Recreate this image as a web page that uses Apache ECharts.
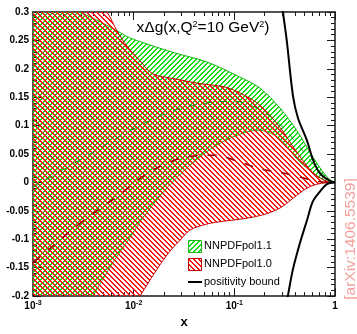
<!DOCTYPE html>
<html>
<head>
<meta charset="utf-8">
<script src="https://cdn.jsdelivr.net/npm/echarts@6/dist/echarts.min.js"></script>
<style>
  html, body { margin: 0; padding: 0; background: #fff; }
  #chart { width: 357px; height: 334px; }
</style>
</head>
<body>
<div id="chart"></div>
<script>
// x*Delta g(x) at Q^2 = 10 GeV^2 — NNPDFpol1.1 and NNPDFpol1.0 one-sigma bands
// Each curve is a list of [x, value] pairs.

const pol11Upper = [
  [0.001, 0.341], [0.00185, 0.317], [0.00293, 0.300], [0.00462, 0.283], [0.00682, 0.267],
  [0.00857, 0.257], [0.01155, 0.248], [0.0245, 0.229], [0.0535, 0.212], [0.106, 0.188],
  [0.18, 0.166], [0.284, 0.131], [0.419, 0.091], [0.564, 0.053], [0.741, 0.021],
  [0.889, 0.005], [1, 0]
];
const pol11Lower = [
  [0.001, -0.376], [0.00293, -0.238], [0.00394, -0.200], [0.00622, -0.141], [0.00918, -0.097],
  [0.01236, -0.062], [0.01823, -0.024], [0.0288, 0.014], [0.0455, 0.045], [0.072, 0.069],
  [0.1274, 0.088], [0.1923, 0.091], [0.284, 0.076], [0.448, 0.036], [0.759, 0.005], [1, 0]
];
const pol11Central = [
  [0.001, -0.009], [0.00173, 0.016], [0.00368, 0.050], [0.00918, 0.091], [0.0245, 0.126],
  [0.0535, 0.140], [0.0968, 0.143], [0.1675, 0.131], [0.284, 0.102], [0.448, 0.062],
  [0.708, 0.019], [1, 0]
];

const pol10Upper = [
  [0.001, 0.55], [0.00185, 0.42], [0.00368, 0.34], [0.00543, 0.300], [0.00682, 0.267],
  [0.00857, 0.240], [0.01155, 0.214], [0.01556, 0.191], [0.0245, 0.183], [0.0455, 0.174],
  [0.0845, 0.167], [0.143, 0.148], [0.192, 0.131], [0.284, 0.097], [0.419, 0.053],
  [0.604, 0.017], [0.832, 0.002], [1, 0]
];
const pol10Lower = [
  [0.001, -0.6], [0.00462, -0.326], [0.00731, -0.257], [0.01155, -0.200], [0.01702, -0.153],
  [0.0229, -0.121], [0.0288, -0.102], [0.0362, -0.084], [0.0511, -0.074], [0.072, -0.069],
  [0.1217, -0.064], [0.1923, -0.057], [0.2838, -0.045], [0.382, -0.028], [0.526, -0.010],
  [0.708, -0.002], [1, 0]
];
const pol10Central = [
  [0.001, -0.141], [0.001174, -0.131], [0.00293, -0.072], [0.00731, -0.021], [0.01155, 0.007],
  [0.01954, 0.031], [0.0338, 0.045], [0.0612, 0.048], [0.1138, 0.036], [0.1795, 0.024],
  [0.3565, 0.014], [0.661, 0.002], [1, 0]
];

// positivity bound |x Delta g| <= x g
const positivityUpper = [
  [0.284, 0.34], [0.304, 0.300], [0.333, 0.247], [0.382, 0.153], [0.428, 0.114],
  [0.526, 0.074], [0.604, 0.040], [0.708, 0.016], [0.889, 0.003], [1, 0]
];
const positivityLower = [
  [0.325, -0.219], [0.340, -0.200], [0.382, -0.153], [0.448, -0.107], [0.526, -0.067],
  [0.604, -0.033], [0.708, -0.016], [0.832, -0.003], [1, 0]
];

const legendNames = ['NNPDFpol1.1', 'NNPDFpol1.0', 'positivity bound'];
const titleText = 'x\u0394g(x,Q{s|2}=10 GeV{s|2})';
const sideNote = '[arXiv:1406.5539]';
const xMajorTicks = [0.001, 0.01, 0.1, 1];
const xMinorTicks = [
  0.002, 0.003, 0.004, 0.005, 0.006, 0.007, 0.008, 0.009,
  0.02, 0.03, 0.04, 0.05, 0.06, 0.07, 0.08, 0.09,
  0.2, 0.3, 0.4, 0.5, 0.6, 0.7, 0.8, 0.9
];

const FONT = '"Liberation Sans", Arial, Helvetica, sans-serif';
const GREEN = '#12dc12';
const GREEN_EDGE = '#10b810';
const RED = '#ff1414';
const RED_EDGE = '#c80000';

// diagonal hatch tile: 2-px thick stripes with a 5-px period
function hatchTile(color, rising) {
  const size = 5;
  const c = document.createElement('canvas');
  c.width = size; c.height = size;
  const ctx = c.getContext('2d');
  ctx.fillStyle = color;
  for (let i = 0; i < size; i++) {
    const y = rising ? size - 1 - i : i;
    ctx.fillRect(i, y, 1, 1);
    ctx.fillRect(i, (y + 1) % size, 1, 1);
  }
  return c;
}
const greenTile = hatchTile(GREEN, true);
const redTile = hatchTile(RED, false);

// Catmull-Rom spline through pixel points
function traceSpline(ctx, pts, start) {
  if (start) ctx.moveTo(pts[0][0], pts[0][1]); else ctx.lineTo(pts[0][0], pts[0][1]);
  const k = 1 / 6;
  for (let i = 0; i < pts.length - 1; i++) {
    const p0 = pts[Math.max(i - 1, 0)], p1 = pts[i], p2 = pts[i + 1], p3 = pts[Math.min(i + 2, pts.length - 1)];
    ctx.bezierCurveTo(
      p1[0] + (p2[0] - p0[0]) * k, p1[1] + (p2[1] - p0[1]) * k,
      p2[0] - (p3[0] - p1[0]) * k, p2[1] - (p3[1] - p1[1]) * k,
      p2[0], p2[1]);
  }
}

// hatched band between two curves, painted as one raster layer
function band(name, upper, lower, tile, edge) {
  return {
    type: 'custom',
    name: name,
    coordinateSystem: 'cartesian2d',
    clip: true,
    silent: true,
    data: [upper[upper.length - 1]],
    renderItem: function (params, api) {
      const W = api.getWidth(), H = api.getHeight();
      const cs = params.coordSys;
      const top = upper.map(p => api.coord(p));
      const bottom = lower.map(p => api.coord(p));
      const layer = document.createElement('canvas');
      layer.width = W; layer.height = H;
      const ctx = layer.getContext('2d');
      ctx.save();
      ctx.beginPath();
      ctx.rect(cs.x, cs.y, cs.width, cs.height);
      ctx.clip();
      ctx.beginPath();
      traceSpline(ctx, top, true);
      traceSpline(ctx, bottom.slice().reverse(), false);
      ctx.closePath();
      ctx.fillStyle = ctx.createPattern(tile, 'repeat');
      ctx.fill();
      ctx.strokeStyle = edge;
      ctx.lineWidth = 1;
      ctx.beginPath(); traceSpline(ctx, top, true); ctx.stroke();
      ctx.beginPath(); traceSpline(ctx, bottom, true); ctx.stroke();
      ctx.restore();
      return { type: 'image', style: { image: layer, x: 0, y: 0, width: W, height: H } };
    }
  };
}

function curve(data, color, width, dash) {
  return {
    type: 'line', data: data, smooth: 0.35, showSymbol: false, silent: true, clip: true,
    lineStyle: { color: color, width: width, type: dash || 'solid' }
  };
}

const axisLineStyle = { color: '#1a1a1a', width: 1.5 };
const tickStyle = { color: '#1a1a1a', width: 1 };

function xAxisBase(position) {
  return {
    type: 'log', logBase: 10, min: 0.001, max: 1, position: position,
    splitLine: { show: false },
    axisLabel: { show: false },
    axisLine: { show: false, onZero: false, lineStyle: axisLineStyle }
  };
}

const xAxes = [
  Object.assign(xAxisBase('bottom'), {
    axisLine: { show: true, onZero: false, lineStyle: axisLineStyle },
    axisTick: { show: true, inside: true, length: 8, lineStyle: tickStyle, customValues: xMajorTicks },
    axisLabel: {
      show: true, margin: 3, customValues: xMajorTicks,
      formatter: function (v) {
        const e = Math.round(Math.log10(v));
        return e === 0 ? '{b|1}' : '{b|10}{s|' + e + '}';
      },
      rich: {
        b: { fontSize: 10, fontWeight: 'bold', fontFamily: FONT, color: '#000', lineHeight: 14 },
        s: { fontSize: 7, fontWeight: 'bold', fontFamily: FONT, color: '#000', verticalAlign: 'top' }
      }
    },
    name: 'x', nameLocation: 'middle', nameGap: 19,
    nameTextStyle: { fontSize: 13, fontWeight: 'bold', fontFamily: FONT, color: '#000' }
  }),
  Object.assign(xAxisBase('bottom'), {
    axisTick: { show: true, inside: true, length: 4, lineStyle: tickStyle, customValues: xMinorTicks }
  }),
  Object.assign(xAxisBase('top'), {
    axisLine: { show: true, onZero: false, lineStyle: axisLineStyle },
    axisTick: { show: true, inside: true, length: 8, lineStyle: tickStyle, customValues: xMajorTicks }
  }),
  Object.assign(xAxisBase('top'), {
    axisTick: { show: true, inside: true, length: 4, lineStyle: tickStyle, customValues: xMinorTicks }
  })
];

function yAxis(position, labels) {
  return {
    type: 'value', min: -0.2, max: 0.3, interval: 0.05, position: position,
    splitLine: { show: false },
    axisLine: { show: true, onZero: false, lineStyle: axisLineStyle },
    axisTick: { show: true, inside: true, length: 8, lineStyle: tickStyle },
    minorTick: { show: true, splitNumber: 5, length: 4, lineStyle: tickStyle },
    axisLabel: {
      show: labels, margin: 4, fontSize: 10, fontWeight: 'bold', fontFamily: FONT, color: '#000',
      formatter: v => String(parseFloat(v.toFixed(2)))
    }
  };
}

const chart = echarts.init(document.getElementById('chart'), null, { renderer: 'canvas' });

chart.setOption({
  animation: false,
  backgroundColor: '#fff',
  grid: { left: 33, right: 22, top: 12, bottom: 32 },
  xAxis: xAxes,
  yAxis: [yAxis('left', true), yAxis('right', false)],
  series: [
    band(legendNames[0], pol11Upper, pol11Lower, greenTile, GREEN_EDGE),
    band(legendNames[1], pol10Upper, pol10Lower, redTile, RED_EDGE),
    curve(pol11Central, '#109010', 1, [7, 9]),
    curve(pol10Central, '#9a0000', 1.6, [9, 10]),
    curve(positivityUpper, '#000', 2),
    curve(positivityLower, '#000', 2)
  ],
  graphic: [
    {
      type: 'text', x: 203, y: 28,
      style: {
        text: titleText, fontSize: 15.5, fontFamily: FONT, fill: '#000',
        align: 'center', verticalAlign: 'middle',
        rich: { s: { fontSize: 9, fontFamily: FONT, fill: '#000', verticalAlign: 'top' } }
      }
    },
    { type: 'rect', shape: { x: 188.5, y: 240.5, width: 13, height: 12 }, style: { fill: { image: greenTile, repeat: 'repeat' }, stroke: GREEN_EDGE, lineWidth: 1 } },
    { type: 'rect', shape: { x: 188.5, y: 258.5, width: 13, height: 12 }, style: { fill: { image: redTile, repeat: 'repeat' }, stroke: RED_EDGE, lineWidth: 1 } },
    { type: 'line', shape: { x1: 188, y1: 282, x2: 202, y2: 282 }, style: { stroke: '#000', lineWidth: 2 } },
    { type: 'text', x: 204, y: 246, style: { text: legendNames[0], fontSize: 11, fontFamily: FONT, fill: '#000', verticalAlign: 'middle' } },
    { type: 'text', x: 204, y: 264, style: { text: legendNames[1], fontSize: 11, fontFamily: FONT, fill: '#000', verticalAlign: 'middle' } },
    { type: 'text', x: 204, y: 282, style: { text: legendNames[2], fontSize: 11, fontFamily: FONT, fill: '#000', verticalAlign: 'middle' } },
    {
      type: 'text', x: 351, y: 239, rotation: Math.PI / 2,
      style: { text: sideNote, fontSize: 15.5, fontFamily: FONT, fill: '#f2a29c', align: 'center', verticalAlign: 'middle' }
    }
  ]
});
</script>
</body>
</html>
